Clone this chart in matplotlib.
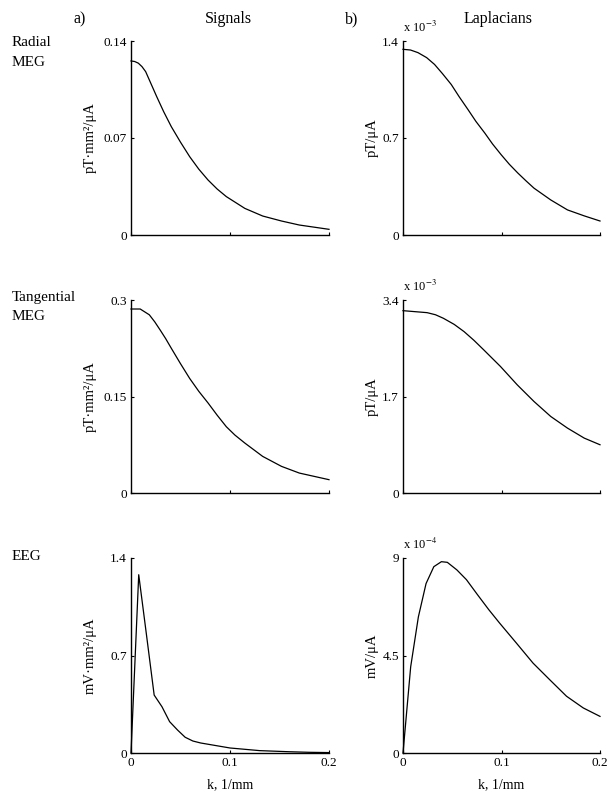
import matplotlib
matplotlib.use("Agg")
import matplotlib.pyplot as plt

plt.rcParams['font.family'] = ['Liberation Serif', 'DejaVu Serif']
plt.rcParams['mathtext.fontset'] = 'stix'

# ---------------- data ----------------
k_rad_sig = [0, 0.0037, 0.0074, 0.0111, 0.0148, 0.020, 0.026, 0.033, 0.0407, 0.050, 0.0593, 0.0685, 0.0778, 0.087, 0.0963, 0.115, 0.133, 0.152, 0.170, 0.2]
v_rad_sig = [0.1256, 0.1252, 0.1240, 0.1215, 0.1179, 0.1095, 0.0998, 0.0890, 0.0782, 0.0670, 0.0565, 0.0475, 0.0397, 0.0332, 0.0277, 0.0192, 0.0137, 0.0101, 0.0072, 0.0041]

k_rad_lap = [0, 0.0076, 0.0152, 0.024, 0.032, 0.040, 0.049, 0.057, 0.066, 0.074, 0.083, 0.091, 0.0997, 0.108, 0.1166, 0.125, 0.133, 0.150, 0.167, 0.184, 0.2]
v_rad_lap = [1.340, 1.335, 1.316, 1.280, 1.231, 1.165, 1.086, 0.998, 0.905, 0.820, 0.736, 0.656, 0.579, 0.510, 0.447, 0.390, 0.338, 0.253, 0.181, 0.138, 0.101]

k_tan_sig = [0, 0.0093, 0.0185, 0.024, 0.0296, 0.035, 0.0407, 0.050, 0.0593, 0.0685, 0.0778, 0.087, 0.0963, 0.105, 0.115, 0.133, 0.152, 0.170, 0.2]
v_tan_sig = [0.286, 0.286, 0.277, 0.266, 0.253, 0.240, 0.225, 0.201, 0.178, 0.158, 0.140, 0.121, 0.103, 0.090, 0.0776, 0.0569, 0.0414, 0.031, 0.0207]

k_tan_lap = [0, 0.0245, 0.033, 0.041, 0.052, 0.062, 0.072, 0.082, 0.099, 0.116, 0.133, 0.150, 0.167, 0.184, 0.2]
v_tan_lap = [3.212, 3.177, 3.140, 3.078, 2.970, 2.843, 2.690, 2.521, 2.228, 1.905, 1.612, 1.348, 1.143, 0.967, 0.850]

k_eeg_sig = [0, 0.0078, 0.0156, 0.0234, 0.0313, 0.039, 0.047, 0.0547, 0.0625, 0.0703, 0.1, 0.13, 0.16, 0.18, 0.2]
v_eeg_sig = [0.0, 1.28, 0.85, 0.416, 0.332, 0.225, 0.165, 0.113, 0.086, 0.072, 0.036, 0.017, 0.009, 0.005, 0.003]

k_eeg_lap = [0, 0.0078, 0.0156, 0.0234, 0.0313, 0.039, 0.045, 0.0547, 0.0644, 0.0754, 0.087, 0.098, 0.115, 0.132, 0.149, 0.166, 0.183, 0.2]
v_eeg_lap = [0.0, 3.98, 6.28, 7.82, 8.60, 8.83, 8.80, 8.45, 8.0, 7.32, 6.62, 6.0, 5.08, 4.15, 3.38, 2.62, 2.08, 1.69]

row_labels = ["Radial\nMEG", "Tangential\nMEG", "EEG"]
col_titles = ["Signals", "Laplacians"]
col_tags = ["a)", "b)"]
ylabels_left = ["pT·mm²/μA", "pT·mm²/μA", "mV·mm²/μA"]
ylabels_right = ["pT/μA", "pT/μA", "mV/μA"]
ymax_left = [0.14, 0.3, 1.4]
yticklabels_left = [["0", "0.07", "0.14"], ["0", "0.15", "0.3"], ["0", "0.7", "1.4"]]
ymax_right = [1.4, 3.4, 9]
yticklabels_right = [["0", "0.7", "1.4"], ["0", "1.7", "3.4"], ["0", "4.5", "9"]]
exponents = [r"x 10$^{-3}$", r"x 10$^{-3}$", r"x 10$^{-4}$"]
xticklabels = ["0", "0.1", "0.2"]
xlabel = "k, 1/mm"

left_data = [(k_rad_sig, v_rad_sig), (k_tan_sig, v_tan_sig), (k_eeg_sig, v_eeg_sig)]
right_data = [(k_rad_lap, v_rad_lap), (k_tan_lap, v_tan_lap), (k_eeg_lap, v_eeg_lap)]

# ---------------- figure ----------------
W, H = 607, 794
fig = plt.figure(figsize=(W / 100, H / 100), dpi=100)

def fx(px):
    return px / W

def fy(py):
    return 1 - py / H

rows_px = [(41, 235), (300, 493), (558, 753)]
cols_px = [(131, 329), (403, 600)]
row_label_y = [42, 297, 557]

def style(ax, ymax, ylabs, show_x):
    ax.set_xlim(0, 0.2)
    ax.set_ylim(0, ymax)
    for s in ("top", "right"):
        ax.spines[s].set_visible(False)
    for s in ("left", "bottom"):
        ax.spines[s].set_linewidth(1.0)
    ax.set_yticks([0, ymax / 2, ymax])
    ax.set_yticklabels(ylabs)
    ax.set_xticks([0, 0.1, 0.2])
    if show_x:
        ax.set_xticklabels(xticklabels)
    else:
        ax.set_xticklabels([])
    ax.tick_params(direction="in", length=2, width=0.8, labelsize=9.5, pad=3)

for r in range(3):
    top, bot = rows_px[r]
    for c in range(2):
        x0, x1 = cols_px[c]
        ax = fig.add_axes([fx(x0), fy(bot), fx(x1 - x0), (bot - top) / H])
        if c == 0:
            kk, vv = left_data[r]
            style(ax, ymax_left[r], yticklabels_left[r], r == 2)
            ylab = ylabels_left[r]
        else:
            kk, vv = right_data[r]
            style(ax, ymax_right[r], yticklabels_right[r], r == 2)
            ylab = ylabels_right[r]
        ax.plot(kk, vv, color="black", lw=0.9, clip_on=False)
        fig.text(fx(90 if c == 0 else 372), fy((top + bot) / 2), ylab, rotation=90,
                 ha="center", va="center", fontsize=10.5)
        if c == 1:
            fig.text(fx(403), fy(top - 14), exponents[r], ha="left", va="center", fontsize=9)
        if r == 2:
            fig.text(fx((x0 + x1) / 2), fy(785), xlabel, ha="center", va="center", fontsize=10)
    lines = row_labels[r].split("\n")
    for i, line in enumerate(lines):
        fig.text(fx(12), fy(row_label_y[r] + 20 * i), line, ha="left", va="center", fontsize=11)

# column titles
fig.text(fx(74), fy(19), col_tags[0], ha="left", va="center", fontsize=11.5)
fig.text(fx(228), fy(19), col_titles[0], ha="center", va="center", fontsize=11.5)
fig.text(fx(345), fy(19), col_tags[1], ha="left", va="center", fontsize=11.5)
fig.text(fx(498), fy(19), col_titles[1], ha="center", va="center", fontsize=11.5)

fig.savefig("out.png", dpi=100)
